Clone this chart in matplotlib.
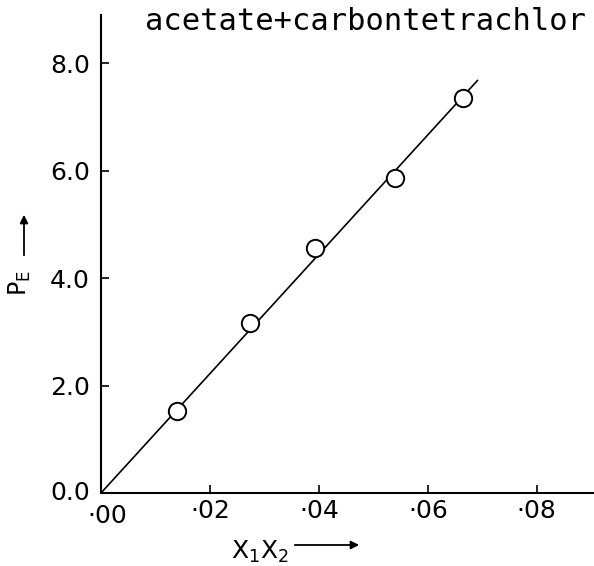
import matplotlib
matplotlib.use("Agg")
import matplotlib.pyplot as plt
from matplotlib.transforms import ScaledTranslation

# values
x1x2 = [0.0139, 0.0273, 0.0393, 0.0539, 0.0664]
pe = [1.53, 3.17, 4.56, 5.87, 7.36]
fit_x = [0.0, 0.0691]
fit_y = [0.0, 7.68]

xticks = [0.00, 0.02, 0.04, 0.06, 0.08]
xtick_labels = ["·00", "·02", "·04", "·06", "·08"]
yticks = [0.0, 2.0, 4.0, 6.0, 8.0]
ytick_labels = ["0.0", "2.0", "4.0", "6.0", "8.0"]

# the scan cuts the heading off at the right edge
title = "acetate+carbontetrachlor"

fig = plt.figure(figsize=(5.94, 5.66), dpi=100)
ax = fig.add_axes([101 / 594, 73 / 566, 493 / 594, 478 / 566])

ax.plot(fit_x, fit_y, "-", color="black", lw=1.2, zorder=2)
ax.plot(x1x2, pe, "o", ms=12.5, mfc="white", mec="black", mew=1.4,
        ls="none", zorder=3)

ax.set_xlim(0, 0.0905)
ax.set_ylim(0, 8.9)

ax.set_xticks(xticks)
ax.set_xticklabels(xtick_labels)
ax.set_yticks(yticks)
ax.set_yticklabels(ytick_labels)
ax.tick_params(direction="in", length=6, width=1.2, labelsize=18)
ax.tick_params(axis="y", pad=8)
ax.tick_params(axis="x", pad=4)

# the origin labels sit apart in the original: ·00 lower right, 0.0 a bit up
first_x = ax.get_xticklabels()[0]
first_x.set_transform(first_x.get_transform()
                      + ScaledTranslation(6 / 100, -5 / 100, fig.dpi_scale_trans))
first_y = ax.get_yticklabels()[0]
first_y.set_transform(first_y.get_transform()
                      + ScaledTranslation(0, 2 / 100, fig.dpi_scale_trans))

for side in ("top", "right"):
    ax.spines[side].set_visible(False)
for side in ("left", "bottom"):
    ax.spines[side].set_linewidth(1.5)

ax.set_xlabel(r"X$_1$X$_2$", fontsize=18, labelpad=8)
ax.xaxis.set_label_coords(0.322, -0.095)
ax.annotate("", xy=(362 / 594, 1 - 545 / 566), xytext=(292 / 594, 1 - 545 / 566),
            xycoords="figure fraction",
            arrowprops=dict(arrowstyle="-|>", color="black", lw=1.3,
                            mutation_scale=12))

ax.set_ylabel(r"P$_\mathrm{E}$", fontsize=17, labelpad=6)
ax.yaxis.set_label_coords(-0.138, 0.44)
ax.annotate("", xy=(24 / 594, 1 - 212 / 566), xytext=(24 / 594, 1 - 258 / 566),
            xycoords="figure fraction",
            arrowprops=dict(arrowstyle="-|>", color="black", lw=1.3,
                            mutation_scale=12))

fig.text(145 / 594, 1 - 21 / 566, title, family="DejaVu Sans Mono",
         fontsize=22, va="center", ha="left")

fig.savefig("out.png", dpi=100)
